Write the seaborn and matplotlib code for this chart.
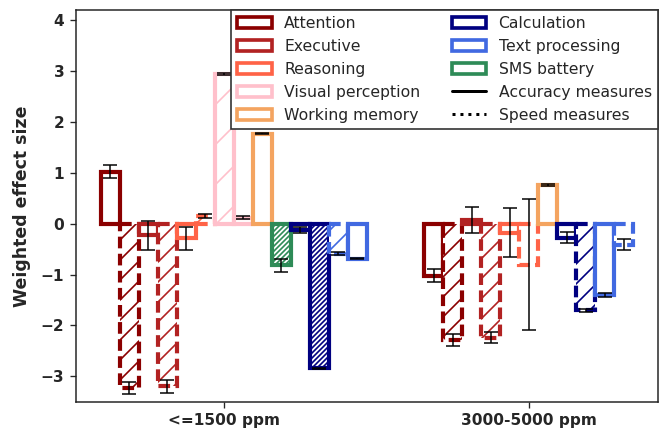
import numpy as np
import pandas as pd
import matplotlib
matplotlib.use("Agg")
import matplotlib.pyplot as plt
import seaborn as sns
from matplotlib.patches import Patch
from matplotlib.lines import Line2D

# ---------------- data ----------------
groups = ["<=1500 ppm", "3000-5000 ppm"]

domains = ["Attention", "Executive", "Reasoning", "Visual perception",
           "Working memory", "Calculation", "Text processing", "SMS battery"]

g1_domain = ["Attention", "Attention", "Executive", "Executive", "Reasoning", "Reasoning",
             "Visual perception", "Visual perception", "Working memory", "SMS battery",
             "Calculation", "Calculation", "Text processing", "Text processing"]
g1_measure = ["accuracy", "speed", "accuracy", "speed", "accuracy", "speed",
              "accuracy", "accuracy", "accuracy", "accuracy",
              "accuracy", "accuracy", "speed", "accuracy"]
g1_value = [1.02, -3.23, -0.23, -3.20, -0.29, 0.15, 2.95, 0.12, 1.77, -0.82,
            -0.125, -2.84, -0.59, -0.69]
g1_err = [0.13, 0.12, 0.28, 0.125, 0.22, 0.03, 0.02, 0.03, 0.01, 0.13,
          0.065, 0.01, 0.03, 0.01]
g1_hatch = ["", "//", "", "//", "", "//", "/", "", "", "////////", "", "////////", "//", ""]

g2_domain = ["Attention", "Attention", "Executive", "Executive", "Reasoning", "Reasoning",
             "Working memory", "Calculation", "Calculation", "Text processing", "Text processing"]
g2_measure = ["accuracy", "speed", "accuracy", "speed", "accuracy", "speed",
              "accuracy", "accuracy", "speed", "accuracy", "speed"]
g2_value = [-1.02, -2.29, 0.075, -2.24, -0.18, -0.81, 0.76, -0.28, -1.70, -1.40, -0.41]
g2_err = [0.13, 0.12, 0.25, 0.11, 0.48, 1.29, 0.01, 0.11, 0.03, 0.04, 0.10]
g2_hatch = ["", "//", "", "//", "", "", "", "", "//", "", ""]

# ---------------- styles / layout ----------------
palette = {"Attention": "#8b0000", "Executive": "#b22222", "Reasoning": "#ff6347",
           "Visual perception": "#ffc0cb", "Working memory": "#f4a460",
           "Calculation": "#000080", "Text processing": "#4169e1",
           "SMS battery": "#2e8b57"}
line_for = {"accuracy": "-", "speed": (0, (2.8, 1.3))}
bar_w = 1 / 16
slot_start = [1, 0]
n_slots = [15, 11]

frames = []
for gi, (dom, mea, val, err, hat) in enumerate(
        [(g1_domain, g1_measure, g1_value, g1_err, g1_hatch),
         (g2_domain, g2_measure, g2_value, g2_err, g2_hatch)]):
    k = np.arange(len(dom))
    pos = gi + (slot_start[gi] + k - (n_slots[gi] - 1) / 2) * bar_w
    frames.append(pd.DataFrame({"group": groups[gi], "domain": dom, "measure": mea,
                                "value": val, "err": err, "hatch": hat, "pos": pos}))
df = pd.concat(frames, ignore_index=True)

sns.set_style("ticks")
plt.rcParams["font.family"] = ["DejaVu Sans"]
plt.rcParams["hatch.linewidth"] = 1.0

fig = plt.figure(figsize=(663 / 120, 431 / 120), dpi=120)
ax = fig.add_axes([76 / 663, 1 - 401.7 / 431, (658 - 76) / 663, (401.7 - 10) / 431])

sns.barplot(data=df, x="pos", y="value", native_scale=True, orient="x",
            errorbar=None, width=1.0, color="white", ax=ax)

for p in ax.patches:
    cx = p.get_x() + p.get_width() / 2
    row = df.iloc[int(np.argmin(np.abs(df["pos"].values - cx)))]
    col = palette[row["domain"]]
    p.set_x(row["pos"] - bar_w / 2)
    p.set_width(bar_w)
    p.set_facecolor("white")
    p.set_edgecolor(col)
    p.set_linewidth(2.5)
    p.set_linestyle(line_for[row["measure"]])
    p.set_hatch(row["hatch"])
    p.set_zorder(2)

ax.errorbar(df["pos"], df["value"], yerr=df["err"], fmt="none", ecolor="black",
            elinewidth=0.9, capsize=4, capthick=0.9, zorder=5)

ax.set_xlim(-0.487, 1.425)
ax.set_ylim(-3.5, 4.2)
ax.set_xticks([0, 1])
ax.set_xticklabels(groups, fontsize=9.2, fontweight="bold")
ax.set_yticks(range(-3, 5))
ax.set_yticklabels([f"{v}" if v >= 0 else f"\u2212{-v}" for v in range(-3, 5)],
                   fontsize=9.2, fontweight="bold")
ax.set_xlabel("")
ax.set_ylabel("Weighted effect size", fontsize=10.4, fontweight="bold", labelpad=6)
for s in ax.spines.values():
    s.set_visible(True)
    s.set_linewidth(0.9)
    s.set_color("#222222")

handles = [Patch(facecolor="white", edgecolor=palette[d], linewidth=2.2, label=d)
           for d in domains]
handles += [Line2D([], [], color="black", lw=1.8, ls="-", label="Accuracy measures"),
            Line2D([], [], color="black", lw=1.8, ls=":", label="Speed measures")]
leg = ax.legend(handles=handles, ncol=2, loc="upper right", borderaxespad=0,
                fancybox=False, framealpha=1, edgecolor="#333333", fontsize=9.4,
                labelspacing=0.5, handlelength=2.2)
leg.set_zorder(10)

fig.savefig("out.png", dpi=120)
